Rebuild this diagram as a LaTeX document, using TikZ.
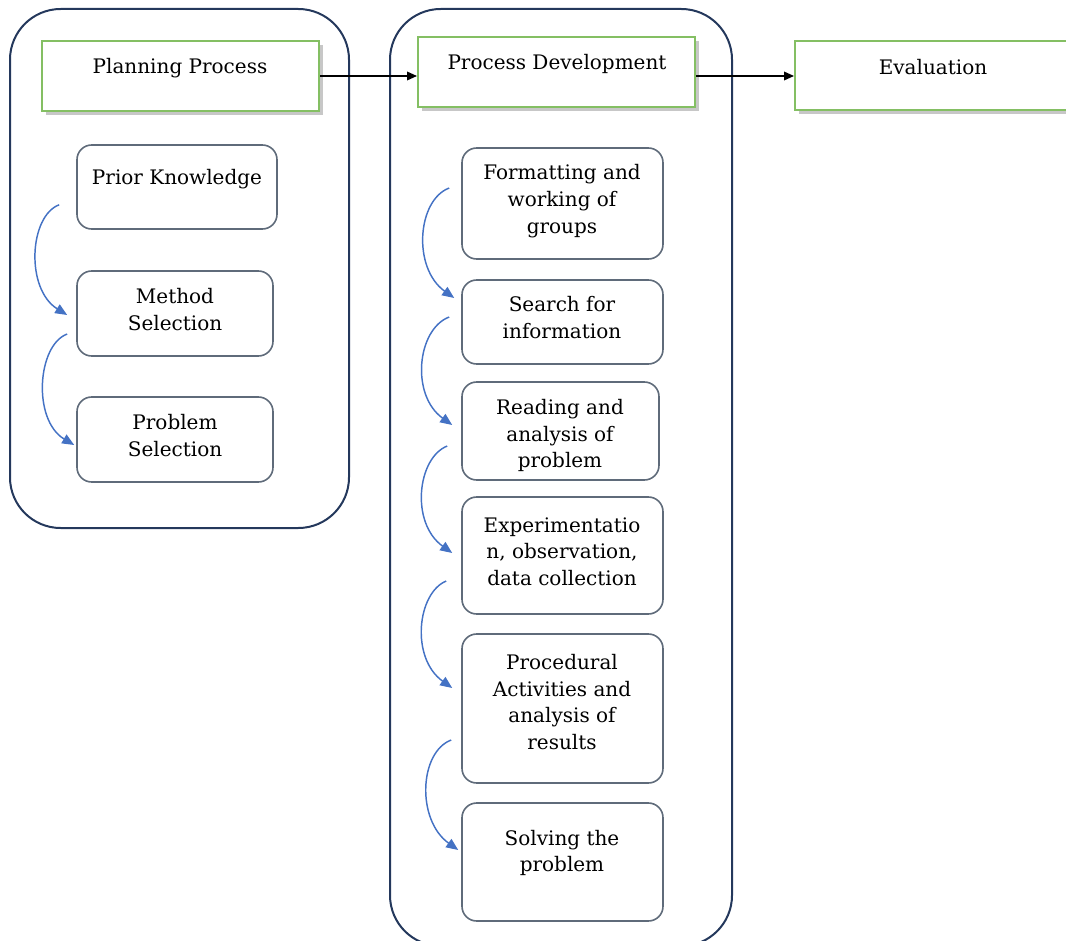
\documentclass[tikz,border=0pt]{standalone}
\usepackage{fontspec}
\setmainfont{DejaVu Serif}
\usetikzlibrary{arrows.meta,fit,shadows,calc}
\definecolor{frameblue}{HTML}{24385C}
\definecolor{cardgray}{HTML}{5F6B7A}
\definecolor{headgreen}{HTML}{84BF63}
\definecolor{flowblue}{HTML}{4472C4}
\begin{document}
\begin{tikzpicture}[x=0.75pt,y=-0.75pt,
  lane/.style={draw=frameblue, line width=1.5pt, rounded corners=38pt, inner sep=0pt},
  head/.style={draw=headgreen, line width=1.5pt, fill=white, inner sep=0pt,
    drop shadow={shadow xshift=3pt, shadow yshift=-3pt, fill=black!22, opacity=1}},
  card/.style={draw=cardgray, line width=1.2pt, rounded corners=11pt, inner sep=0pt, fill=white},
  txt/.style={font=\fontsize{15}{20}\selectfont, align=center, inner sep=0pt},
  flow/.style={draw=flowblue, line width=1.1pt, -{Triangle[length=9pt,width=7.5pt]}},
  link/.style={draw=black, line width=1.1pt, -{Triangle[length=7.5pt,width=6.5pt]}}
]
\useasboundingbox (0,0) rectangle (1066,941);
\clip (0,0) rectangle (1066,941);

% two swim lanes
\node[lane, fit={(10,9) (349,528)}] (plan) {};
\node[lane, fit={(390,9) (732,946)}] (dev) {};

% stage headers
\node[head, fit={(42,41) (319,111)}] (pp) {};
\node[head, fit={(418,37) (695,107)}] (pd) {};
\node[head, fit={(795,41) (1085,110)}] (ev) {};
\node[txt] (pp-t) at (180,68) {Planning Process};
\node[txt] (pd-t) at (557,64) {Process Development};
\node[txt] (ev-t) at (933,67) {Evaluation};

\draw[link] (pp.east) -- (pp.east -| pd.west);
\draw[link] ([yshift=-3pt]pd.east) -- ([yshift=-3pt]pd.east -| ev.west);

% planning steps
\node[card, fit={(77,145) (277,229)}] (pk) {};
\node[card, fit={(77,271) (273,356)}] (ms) {};
\node[card, fit={(77,397) (273,482)}] (ps) {};
\node[txt] (pk-t) at (177,179) {Prior Knowledge};
\node[txt] (ms-t) at (175,309.5) {Method\\Selection};
\node[txt] (ps-t) at (175,435.5) {Problem\\Selection};

% development steps
\node[card, fit={(462,148) (663,259)}] (fw) {};
\node[card, fit={(462,280) (663,364)}] (sf) {};
\node[card, fit={(462,382) (659,480)}] (ra) {};
\node[card, fit={(462,497) (663,614)}] (ex) {};
\node[card, fit={(462,634) (663,783)}] (pa) {};
\node[card, fit={(462,803) (663,921)}] (sp) {};
\node[txt] (fw-t) at (562,201) {Formatting and\\working of\\groups};
\node[txt] (sf-t) at (562,317.5) {Search for\\information};
\node[txt] (ra-t) at (560,435.5) {Reading and\\analysis of\\problem};
\node[txt] (ex-t) at (562,551.5) {Experimentatio\\n, observation,\\data collection};
\node[txt] (pa-t) at (562,702) {Procedural\\Activities and\\analysis of\\results};
\node[txt] (sp-t) at (562,853) {Solving the\\problem};

% curved step arrows
\draw[flow] ($(pk.south west)+(-17,-25)$) .. controls +(-30,11) and +(-42,-26) .. ($(ms.west)+(-9,1.5)$);
\draw[flow] ($(ms.west)+(-9,20.5)$) .. controls +(-30,11) and +(-42,-25) .. ($(ps.west)+(-2,5.5)$);

\draw[flow] ($(fw.west)+(-12,-15.5)$) .. controls +(-32,12) and +(-42,-30) .. ($(sf.west)+(-7,-24)$);
\draw[flow] ($(sf.west)+(-12,-5)$) .. controls +(-32,12) and +(-42,-30) .. ($(ra.west)+(-9,-6)$);
\draw[flow] ($(ra.west)+(-14,15)$) .. controls +(-30,12) and +(-42,-30) .. ($(ex.west)+(-9,-2.5)$);
\draw[flow] ($(ex.west)+(-15,25.5)$) .. controls +(-29,12) and +(-42,-30) .. ($(pa.west)+(-9,-20.5)$);
\draw[flow] ($(pa.west)+(-10,31.5)$) .. controls +(-32,12) and +(-42,-30) .. ($(sp.west)+(-3,-12)$);
\end{tikzpicture}
\end{document}
